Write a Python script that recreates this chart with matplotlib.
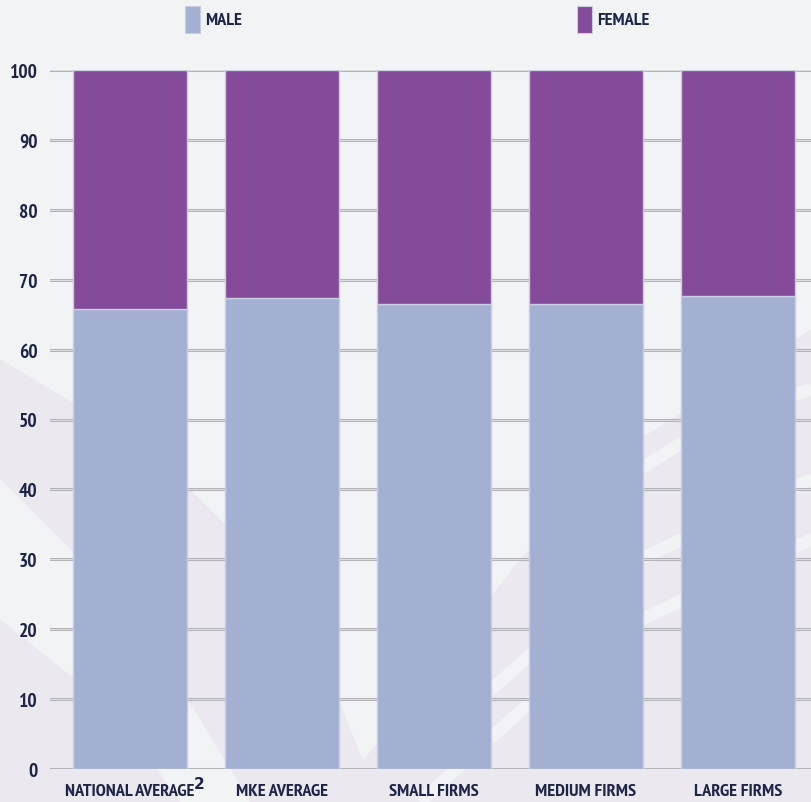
import matplotlib.pyplot as plt
from matplotlib.patches import Polygon, Rectangle
from matplotlib import font_manager
from matplotlib.font_manager import FontProperties

# data
categories = ['NATIONAL AVERAGE', 'MKE AVERAGE', 'SMALL FIRMS', 'MEDIUM FIRMS', 'LARGE FIRMS']
male = [65.8, 67.4, 66.5, 66.5, 67.6]
female = [34.2, 32.6, 33.5, 33.5, 32.4]
yticks = [0, 10, 20, 30, 40, 50, 60, 70, 80, 90, 100]

male_col = '#a4b0d2'
female_col = '#844b9a'
txt_col = '#1c2448'
bg_col = '#f2f3f5'
band_col = '#ebe8ef'

# pick the narrowest bold face available
cond = None
for key in ['narrow', 'condensed']:
    for f in font_manager.fontManager.ttflist:
        n = f.fname.lower()
        if key in n and 'bold' in n and 'oblique' not in n and 'italic' not in n:
            cond = f.fname
            break
    if cond:
        break


def font(size):
    if cond:
        return FontProperties(fname=cond, size=size)
    return FontProperties(family='DejaVu Sans', weight='bold', size=size)


W, H = 812, 803
fig = plt.figure(figsize=(W / 100, H / 100), dpi=100)
fig.patch.set_facecolor(bg_col)


def fit_size(text, target_px, start=14):
    # size so that text is about target_px wide
    t = fig.text(0, 0, text, fontproperties=font(start))
    w = t.get_window_extent(fig.canvas.get_renderer()).width
    t.remove()
    return min(start * target_px / w, 15)


xsize = fit_size('NATIONAL AVERAGE', 130)
ysize = fit_size('100', 28)
lsize = fit_size('FEMALE', 52)

# background layer
bg = fig.add_axes([0, 0, 1, 1], zorder=0)
bg.set_xlim(0, W)
bg.set_ylim(H, 0)
bg.axis('off')
for pts in [
    [(0, 360), (80, 408), (190, 490), (260, 560), (330, 680), (380, 803),
     (250, 803), (200, 720), (120, 600), (0, 480)],
    [(0, 620), (75, 680), (150, 760), (180, 803), (0, 803)],
    [(330, 803), (420, 690), (520, 560), (640, 440), (812, 330), (812, 803)],
]:
    bg.add_patch(Polygon(pts, closed=True, facecolor=band_col, edgecolor='none'))
for xs, ys in [([420, 600, 812], [803, 640, 540]), ([480, 640, 812], [700, 560, 480]),
               ([640, 720, 812], [470, 420, 390])]:
    bg.plot(xs, ys, color=bg_col, lw=9, solid_capstyle='butt')

ax = fig.add_axes([50 / W, 1 - 770 / H, 1 - 50 / W, (770 - 71) / H], zorder=1)
ax.set_facecolor('none')

x = list(range(len(categories)))
for yv in yticks:
    ax.axhline(yv, color='#b4b4b8', lw=2.2, zorder=1)
    ax.axhline(yv, color='#e4e4e7', lw=0.6, zorder=1)

ax.bar(x, male, width=0.75, color=male_col, edgecolor='#c8cde0', linewidth=1, zorder=2)
ax.bar(x, female, width=0.75, bottom=male, color=female_col, edgecolor='#c8cde0',
       linewidth=1, zorder=2)

ax.set_xlim(-0.526, 4.487)
ax.set_ylim(0, 100)
ax.set_yticks(yticks)
ax.set_xticks(x)
ax.set_xticklabels(categories)
ax.tick_params(axis='both', length=0, colors=txt_col)
ax.tick_params(axis='x', pad=10)
ax.tick_params(axis='y', pad=9)
for lab in ax.get_xticklabels():
    lab.set_fontproperties(font(xsize))
    lab.set_color(txt_col)
for lab in ax.get_yticklabels():
    lab.set_fontproperties(font(ysize))
    lab.set_color(txt_col)
for s in ax.spines.values():
    s.set_visible(False)

# footnote marker after the first label
fig.canvas.draw()
bb = ax.get_xticklabels()[0].get_window_extent()
fig.text((bb.x1 - 1) / W, 1 - 785 / H, '2', fontsize=11, fontweight='bold', color=txt_col,
         family='DejaVu Sans', ha='left', va='center')

# legend
for x0, label, col in [(185, 'MALE', male_col), (577, 'FEMALE', female_col)]:
    fig.patches.append(Rectangle((x0 / W, 1 - 34 / H), 15 / W, 27 / H,
                                 transform=fig.transFigure, facecolor=col,
                                 edgecolor='#c8cde0', lw=0.8, zorder=2))
    fig.text((x0 + 20) / W, 1 - 21 / H, label, fontproperties=font(lsize),
             color=txt_col, ha='left', va='center')

plt.savefig('out.png', dpi=100, facecolor=fig.get_facecolor())
